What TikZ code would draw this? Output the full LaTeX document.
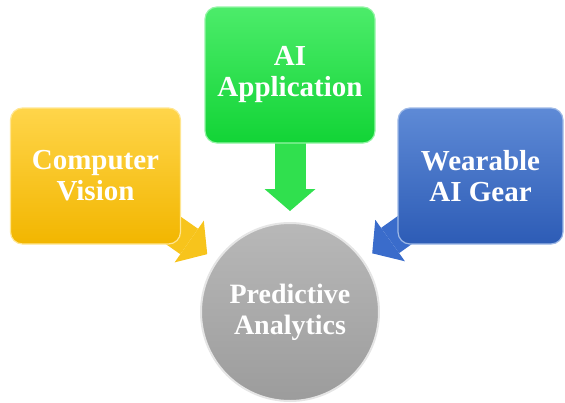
\documentclass[tikz,border=0pt]{standalone}
\usepackage{fontspec}
\setmainfont{Liberation Serif}
\usepackage{tikz}
\usetikzlibrary{shapes}
\usetikzlibrary{arrows.meta}
\usetikzlibrary{backgrounds}

\definecolor{goldtop}{HTML}{FFD54A}
\definecolor{goldbot}{HTML}{F2B600}
\definecolor{goldarrow}{HTML}{F7C41C}
\definecolor{greentop}{HTML}{4CEC6A}
\definecolor{greenbot}{HTML}{12D436}
\definecolor{greenarrow}{HTML}{30E04E}
\definecolor{bluetop}{HTML}{5E8AD6}
\definecolor{bluebot}{HTML}{2D5CB6}
\definecolor{bluearrow}{HTML}{3A6CCB}
\definecolor{greytop}{HTML}{B8B8B8}
\definecolor{greybot}{HTML}{9C9C9C}

\begin{document}
\begin{tikzpicture}[x=1pt, y=-1pt,
		box/.style={rectangle, rounded corners=12pt, minimum width=170pt, minimum height=136pt, align=center, text=white, line width=1.2pt, font=\fontsize{29}{31}\selectfont\bfseries},
		flow/.style={line width=31pt, -{Triangle[width=51pt, length=22pt, line width=0pt]}, shorten >=11pt}]
				\useasboundingbox (0,0) rectangle (565,402);
				\node[box, top color=goldtop, bottom color=goldbot, draw=goldtop!60!white] (Vision) at (95.5,176) {Computer\\Vision};
				\node[box, top color=greentop, bottom color=greenbot, draw=greentop!60!white] (Application) at (290,75) {AI\\Application};
				\node[box, minimum width=165pt, top color=bluetop, bottom color=bluebot, draw=bluetop!60!white] (Gear) at (480.5,176) {Wearable\\AI Gear};
				\node[circle, minimum size=178pt, top color=greytop, bottom color=greybot, draw=white!80!gray, line width=2pt, align=center, text=white, font=\fontsize{28}{31}\selectfont\bfseries] (Analytics) at (290,312) {Predictive\\Analytics};
				\begin{scope}[on background layer]
					\draw[flow, goldarrow] (Vision.center) -- (Analytics);
					\draw[flow, greenarrow] (Application.center) -- (Analytics);
					\draw[flow, bluearrow] (Gear.center) -- (Analytics);
				\end{scope}
			\end{tikzpicture}
\end{document}
